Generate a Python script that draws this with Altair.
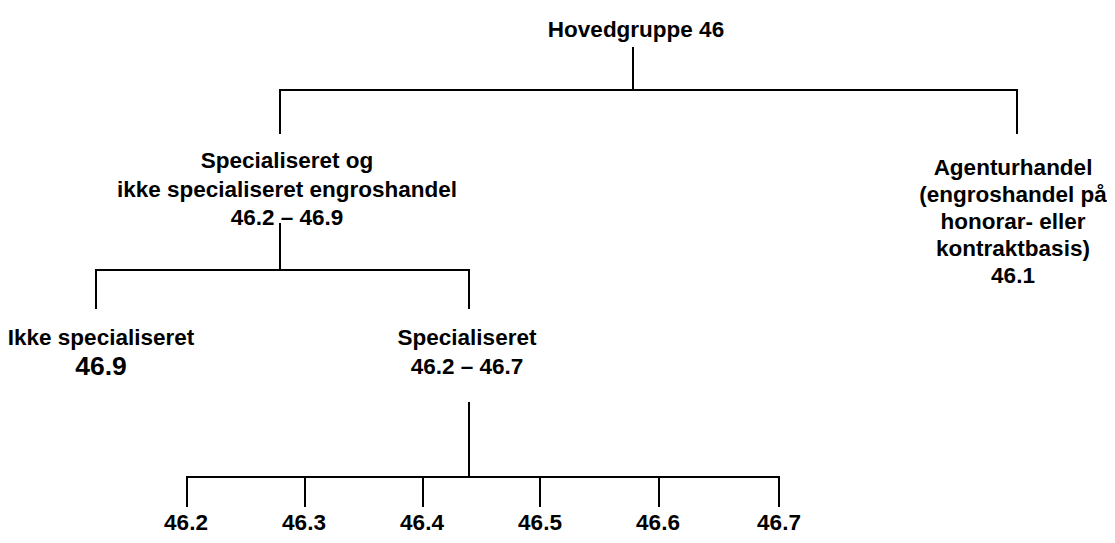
import altair as alt
import pandas as pd

# ---- content (tree structure and texts) ----
node_ids = ["root", "spec_all", "agent", "ikke", "spec",
            "g462", "g463", "g464", "g465", "g466", "g467"]
node_lines = {
    "root": ["Hovedgruppe 46"],
    "spec_all": ["Specialiseret og", "ikke specialiseret engroshandel", "46.2 – 46.9"],
    "agent": ["Agenturhandel", "(engroshandel på", "honorar- eller", "kontraktbasis)", "46.1"],
    "ikke": ["Ikke specialiseret", "46.9"],
    "spec": ["Specialiseret", "46.2 – 46.7"],
    "g462": ["46.2"], "g463": ["46.3"], "g464": ["46.4"],
    "g465": ["46.5"], "g466": ["46.6"], "g467": ["46.7"],
}
parents = {
    "spec_all": "root", "agent": "root",
    "ikke": "spec_all", "spec": "spec_all",
    "g462": "spec", "g463": "spec", "g464": "spec",
    "g465": "spec", "g466": "spec", "g467": "spec",
}

# ---- layout (positions in picture pixels) ----
text_x = {"root": 636, "spec_all": 287, "agent": 1013, "ikke": 101, "spec": 467,
          "g462": 186, "g463": 304, "g464": 422, "g465": 540, "g466": 658, "g467": 779}
text_y = {"root": 37, "spec_all": 168, "agent": 175, "ikke": 345, "spec": 345,
          "g462": 530, "g463": 530, "g464": 530, "g465": 530, "g466": 530, "g467": 530}
line_h = {"root": 28, "spec_all": 28.5, "agent": 27, "ikke": 30, "spec": 28.5}
anchor_x = {"root": 633, "spec_all": 280, "agent": 1017, "ikke": 96, "spec": 469,
            "g462": 187, "g463": 305, "g464": 423, "g465": 540, "g466": 659, "g467": 779}
stem_top = {"root": 48, "spec_all": 224, "spec": 403}
bar_y = {"root": 90, "spec_all": 270, "spec": 477}
drop_end = {"root": 133, "spec_all": 308, "spec": 506}
big_lines = {("ikke", 1)}
FONT_SIZE = 22.5
BIG_SIZE = 26.5

# ---- build tables ----
text_rows = []
for n in node_ids:
    for i, t in enumerate(node_lines[n]):
        text_rows.append({
            "text": t,
            "x": text_x[n],
            "y": text_y[n] + i * line_h.get(n, 28),
            "size": BIG_SIZE if (n, i) in big_lines else FONT_SIZE,
        })
texts = pd.DataFrame(text_rows)

seg_rows = []
for p in stem_top:
    kids = [c for c in node_ids if parents.get(c) == p]
    seg_rows.append({"x": anchor_x[p], "x2": anchor_x[p], "y": stem_top[p], "y2": bar_y[p]})
    xs = [anchor_x[c] for c in kids]
    seg_rows.append({"x": min(xs), "x2": max(xs), "y": bar_y[p], "y2": bar_y[p]})
    for c in kids:
        seg_rows.append({"x": anchor_x[c], "x2": anchor_x[c], "y": bar_y[p], "y2": drop_end[p]})
segs = pd.DataFrame(seg_rows)

W, H = 1099, 527
xs = alt.Scale(domain=[8, 8 + W], nice=False, zero=False)
ys = alt.Scale(domain=[8, 8 + H], nice=False, zero=False, reverse=True)

rules = alt.Chart(segs).mark_rule(color="black", strokeWidth=2, strokeCap="square").encode(
    x=alt.X("x:Q", scale=xs, axis=None),
    x2="x2:Q",
    y=alt.Y("y:Q", scale=ys, axis=None),
    y2="y2:Q",
)

labels = alt.Chart(texts).mark_text(
    font="Liberation Sans", fontWeight="bold", color="black",
    align="center", baseline="alphabetic",
).encode(
    x=alt.X("x:Q", scale=xs, axis=None),
    y=alt.Y("y:Q", scale=ys, axis=None),
    text="text:N",
    size=alt.Size("size:Q", scale=None, legend=None),
)

chart = alt.layer(rules, labels).properties(
    width=W, height=H, padding=0, autosize=alt.AutoSizeParams(type="none"),
    background="white",
).configure_view(strokeWidth=0)

chart.save("out.html", embed_options={"renderer": "svg", "actions": False})
